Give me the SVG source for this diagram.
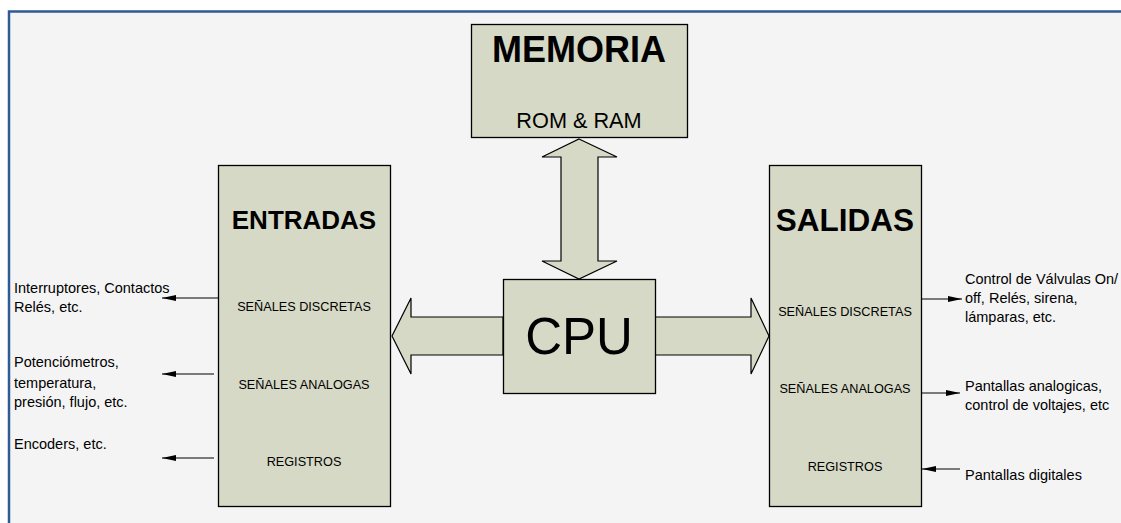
<svg xmlns="http://www.w3.org/2000/svg" width="1121" height="523" viewBox="0 0 1121 523">
<defs>
<style>
.box{fill:#d6d9c5;stroke:#000;stroke-width:1.3}
.barrow{fill:#d6d9c5;stroke:#000;stroke-width:1.2;stroke-linejoin:miter}
.t{font-family:"Liberation Sans",Arial,sans-serif;fill:#000}
.title{font-weight:bold;text-anchor:middle}
.lbl{font-size:12.7px;text-anchor:middle}
.side{font-size:14.5px}
.con{stroke:#000;stroke-width:1.2;fill:none}
</style>
<marker id="ah" viewBox="0 0 10 10" refX="10" refY="5" markerWidth="14" markerHeight="6" markerUnits="userSpaceOnUse" orient="auto" preserveAspectRatio="none">
<path d="M0,0 L10,5 L0,10 z" fill="#000"/>
</marker>
</defs>
<rect x="0" y="0" width="1121" height="523" fill="#ffffff"/>
<rect x="9" y="11.5" width="1130" height="530" fill="#f4f4f4" stroke="#2f5b94" stroke-width="2.5"/>

<g id="connectors">
<polygon class="barrow" points="579,139 617,157 598,157 598,261 617,261 579,279 542,261 561,261 561,157 542,157"/>
<polygon class="barrow" points="392,336 411,298 411,317 503,317 503,355 411,355 411,374"/>
<polygon class="barrow" points="769,336 751,298 751,317 655,317 655,355 751,355 751,374"/>
<line class="con" x1="218" y1="298" x2="162" y2="298" marker-end="url(#ah)"/>
<line class="con" x1="214" y1="374" x2="162" y2="374" marker-end="url(#ah)"/>
<line class="con" x1="214" y1="458" x2="162" y2="458" marker-end="url(#ah)"/>
<line class="con" x1="922" y1="299" x2="962" y2="299" marker-end="url(#ah)"/>
<line class="con" x1="922" y1="393" x2="960" y2="393" marker-end="url(#ah)"/>
<line class="con" x1="960" y1="469" x2="922" y2="469" marker-end="url(#ah)"/>
</g>

<g id="memoria">
<rect class="box" x="471.5" y="24.5" width="216" height="113"/>
<text class="t title" x="579" y="62" font-size="36">MEMORIA</text>
<text class="t" x="579" y="128" font-size="21.7" text-anchor="middle">ROM &amp; RAM</text>
</g>

<g id="cpu">
<rect class="box" x="503.5" y="279.5" width="152" height="114"/>
<text class="t" x="579" y="354" font-size="51" text-anchor="middle">CPU</text>
</g>

<g id="entradas">
<rect class="box" x="218.5" y="165.5" width="172" height="341"/>
<text class="t title" x="304" y="229" font-size="26">ENTRADAS</text>
<text class="t lbl" x="304" y="311">SEÑALES DISCRETAS</text>
<text class="t lbl" x="304" y="389">SEÑALES ANALOGAS</text>
<text class="t lbl" x="304" y="466">REGISTROS</text>
</g>

<g id="salidas">
<rect class="box" x="769.5" y="165.5" width="152" height="341"/>
<text class="t title" x="845" y="231" font-size="31.5">SALIDAS</text>
<text class="t lbl" x="845" y="316">SEÑALES DISCRETAS</text>
<text class="t lbl" x="845" y="393">SEÑALES ANALOGAS</text>
<text class="t lbl" x="845" y="471">REGISTROS</text>
</g>

<g id="entradas-labels">
<text class="t side" x="14" y="293">Interruptores, Contactos</text>
<text class="t side" x="14" y="312">Relés, etc.</text>
<text class="t side" x="14" y="367">Potenciómetros,</text>
<text class="t side" x="14" y="388">temperatura,</text>
<text class="t side" x="14" y="407">presión, flujo, etc.</text>
<text class="t side" x="14" y="449">Encoders, etc.</text>
</g>

<g id="salidas-labels">
<text class="t side" x="965" y="284">Control de Válvulas On/</text>
<text class="t side" x="965" y="303">off, Relés, sirena,</text>
<text class="t side" x="965" y="322">lámparas, etc.</text>
<text class="t side" x="965" y="391">Pantallas analogicas,</text>
<text class="t side" x="965" y="410">control de voltajes, etc</text>
<text class="t side" x="965" y="480">Pantallas digitales</text>
</g>
</svg>
